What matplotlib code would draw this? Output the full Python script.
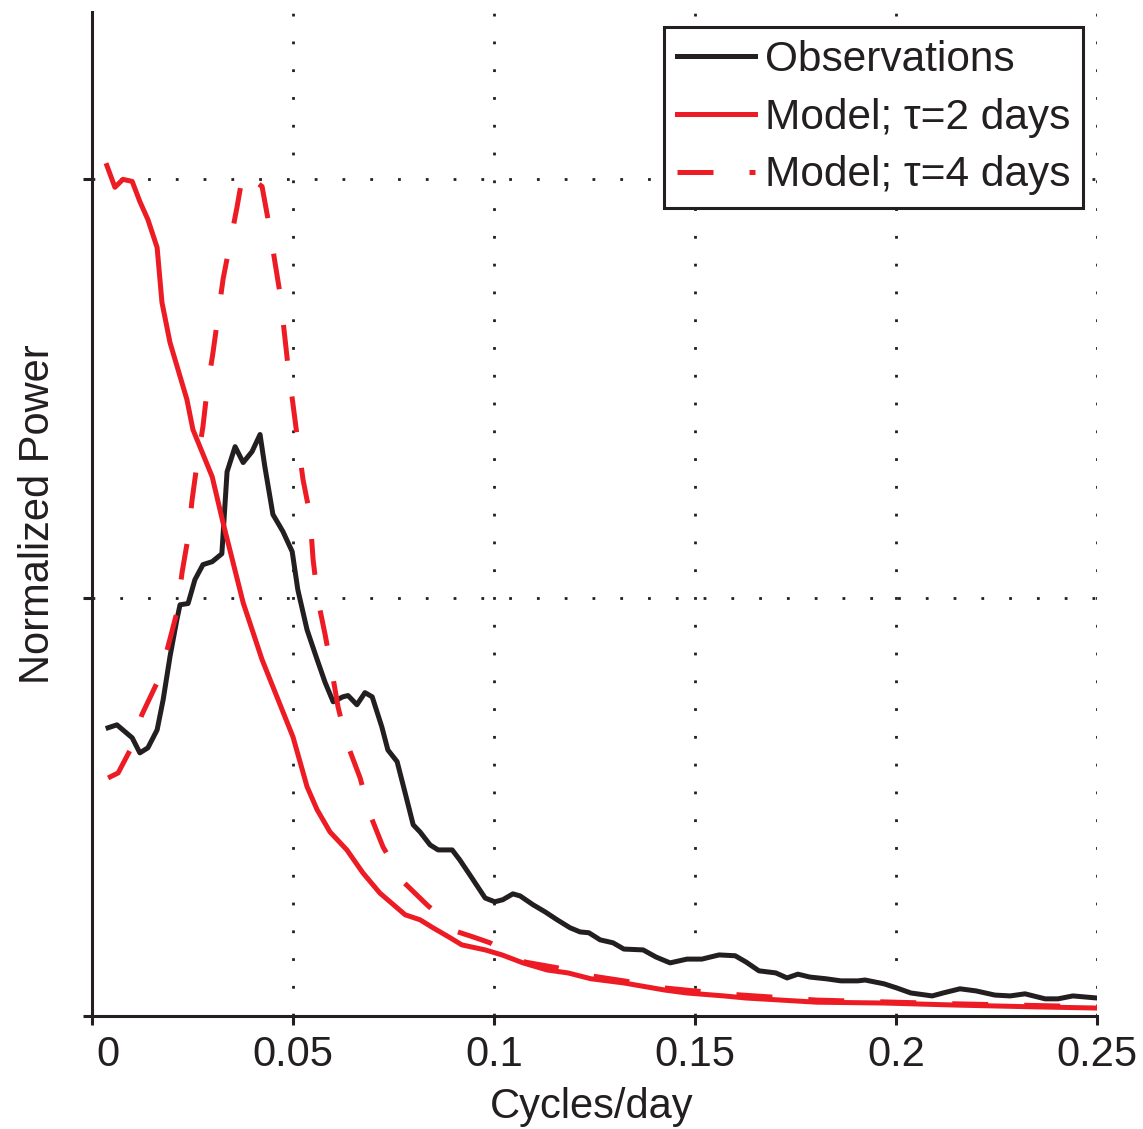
import matplotlib
matplotlib.use("Agg")
import matplotlib.pyplot as plt
import matplotlib.transforms as mtransforms

# ---- data ----
obs_x = [0.0040, 0.0062, 0.0100, 0.0119, 0.0139, 0.0162, 0.0177, 0.0194, 0.0211, 0.0219,
         0.0239, 0.0256, 0.0276, 0.0299, 0.0323, 0.0336, 0.0356, 0.0376, 0.0398, 0.0418,
         0.0430, 0.0450, 0.0475, 0.0498, 0.0512, 0.0535, 0.0560, 0.0580, 0.0600, 0.0624,
         0.0637, 0.0659, 0.0679, 0.0697, 0.0721, 0.0736, 0.0759, 0.0779, 0.0799, 0.0816,
         0.0841, 0.0861, 0.0896, 0.0915, 0.0945, 0.0978, 0.1002, 0.1022, 0.1047, 0.1065,
         0.1097, 0.1127, 0.1157, 0.1189, 0.1214, 0.1236, 0.1264, 0.1296, 0.1323, 0.1371,
         0.1403, 0.1438, 0.1480, 0.1517, 0.1560, 0.1600, 0.1627, 0.1659, 0.1701, 0.1729,
         0.1756, 0.1786, 0.1826, 0.1863, 0.1905, 0.1923, 0.1970, 0.2002, 0.2037, 0.2090,
         0.2117, 0.2159, 0.2199, 0.2246, 0.2284, 0.2321, 0.2371, 0.2403, 0.2440, 0.2500]
obs_y = [0.689, 0.696, 0.665, 0.629, 0.641, 0.684, 0.756, 0.859, 0.947, 0.983,
         0.986, 1.043, 1.079, 1.086, 1.105, 1.301, 1.361, 1.323, 1.349, 1.390,
         1.313, 1.199, 1.158, 1.110, 1.019, 0.923, 0.852, 0.797, 0.751, 0.763,
         0.766, 0.744, 0.773, 0.763, 0.691, 0.636, 0.608, 0.533, 0.457, 0.440,
         0.409, 0.397, 0.397, 0.373, 0.330, 0.282, 0.273, 0.278, 0.292, 0.287,
         0.266, 0.249, 0.230, 0.211, 0.201, 0.199, 0.182, 0.175, 0.160, 0.158,
         0.141, 0.127, 0.136, 0.136, 0.146, 0.144, 0.129, 0.108, 0.103, 0.091,
         0.100, 0.093, 0.089, 0.084, 0.084, 0.086, 0.077, 0.067, 0.055, 0.048,
         0.055, 0.065, 0.060, 0.050, 0.048, 0.053, 0.041, 0.041, 0.048, 0.043]

tau2_x = [0.0037, 0.0057, 0.0077, 0.0100, 0.0119, 0.0139, 0.0162, 0.0174, 0.0194, 0.0219,
          0.0236, 0.0251, 0.0299, 0.0326, 0.0376, 0.0423, 0.0500, 0.0535, 0.0560, 0.0592,
          0.0634, 0.0674, 0.0716, 0.0779, 0.0816, 0.0848, 0.0891, 0.0920, 0.0978, 0.1020,
          0.1072, 0.1132, 0.1184, 0.1241, 0.1323, 0.1425, 0.1480, 0.1572, 0.1627, 0.1803,
          0.1970, 0.2154, 0.2338, 0.2500]
tau2_y = [2.033, 1.981, 2.000, 1.995, 1.947, 1.904, 1.837, 1.706, 1.610, 1.529,
          1.474, 1.402, 1.289, 1.179, 0.988, 0.852, 0.667, 0.548, 0.493, 0.440,
          0.397, 0.342, 0.294, 0.242, 0.230, 0.211, 0.187, 0.170, 0.158, 0.146,
          0.127, 0.110, 0.103, 0.089, 0.079, 0.062, 0.055, 0.048, 0.043, 0.033,
          0.031, 0.026, 0.022, 0.019]

tau4_x = [0.0040, 0.0065, 0.0095, 0.0124, 0.0162, 0.0189, 0.0211, 0.0224, 0.0239, 0.0249,
          0.0261, 0.0276, 0.0286, 0.0301, 0.0326, 0.0361, 0.0376, 0.0398, 0.0423, 0.0438,
          0.0468, 0.0488, 0.0500, 0.0512, 0.0525, 0.0542, 0.0550, 0.0562, 0.0580, 0.0597,
          0.0612, 0.0634, 0.0667, 0.0692, 0.0724, 0.0774, 0.0833, 0.0910, 0.0948, 0.0990,
          0.1077, 0.1159, 0.1241, 0.1323, 0.1425, 0.1572, 0.1803, 0.2154, 0.2500]
tau4_y = [0.569, 0.581, 0.636, 0.720, 0.797, 0.883, 0.964, 1.060, 1.144, 1.234,
          1.318, 1.409, 1.493, 1.586, 1.761, 1.935, 2.017, 2.000, 1.983, 1.904,
          1.725, 1.550, 1.462, 1.373, 1.282, 1.199, 1.091, 0.995, 0.911, 0.823,
          0.739, 0.653, 0.569, 0.481, 0.404, 0.321, 0.266, 0.201, 0.189, 0.175,
          0.129, 0.115, 0.096, 0.084, 0.067, 0.053, 0.038, 0.029, 0.022]

x_ticks = [0, 0.05, 0.1, 0.15, 0.2, 0.25]
x_tick_labels = ["0", "0.05", "0.1", "0.15", "0.2", "0.25"]
y_ticks = [0, 1, 2]
labels = ["Observations", "Model; \u03c4=2 days", "Model; \u03c4=4 days"]

# ---- style ----
BLACK = "#231f20"
RED = "#ed1c24"
plt.rcParams["font.family"] = ["Liberation Sans", "DejaVu Sans"]
plt.rcParams["font.size"] = 30

fig = plt.figure(figsize=(11.43, 11.29), dpi=100)
ax = fig.add_axes([92 / 1143, 1 - 1016 / 1129, 1005 / 1143, 1004 / 1129])

ax.plot(obs_x, obs_y, color=BLACK, lw=3.6, label=labels[0])
ax.plot(tau2_x, tau2_y, color=RED, lw=3.6, label=labels[1])
ax.plot(tau4_x, tau4_y, color=RED, lw=3.6, label=labels[2], dashes=(7.2, 7.2),
        dash_capstyle="butt")

ax.set_xlim(0, 0.25)
ax.set_ylim(0, 2.4)
ax.set_xticks(x_ticks)
ax.set_xticklabels(x_tick_labels)
ax.set_yticks(y_ticks)
ax.set_yticklabels([])

for s in ["top", "right"]:
    ax.spines[s].set_visible(False)
for s in ["left", "bottom"]:
    ax.spines[s].set_linewidth(2.2)
    ax.spines[s].set_color(BLACK)
ax.tick_params(direction="out", length=6.5, width=2.2, color=BLACK,
               labelcolor=BLACK, labelsize=30, pad=7)

ax.grid(True, color=BLACK, linestyle=(0, (1, 9)), linewidth=2.0)
ax.set_axisbelow(True)

# shift the "0" label slightly right like the reference
lab0 = ax.get_xticklabels()[0]
lab0.set_transform(lab0.get_transform() +
                   mtransforms.ScaledTranslation(16 / 100, 0, fig.dpi_scale_trans))

ax.set_xlabel("Cycles/day", color=BLACK, fontsize=30)
ax.xaxis.set_label_coords(0.4975, -0.071)
ax.set_ylabel("Normalized Power", color=BLACK, fontsize=30)
ax.yaxis.set_label_coords(-0.034, 0.5)

leg = ax.legend(loc="upper right", bbox_to_anchor=(0.986, 0.985), borderaxespad=0,
                fontsize=30.5, handlelength=1.84, handletextpad=0.24, labelspacing=0.42,
                borderpad=0.3, fancybox=False, framealpha=1)
leg.get_frame().set_edgecolor(BLACK)
leg.get_frame().set_linewidth(2.2)
for t in leg.get_texts():
    t.set_color(BLACK)

fig.savefig("out.png", dpi=100)
